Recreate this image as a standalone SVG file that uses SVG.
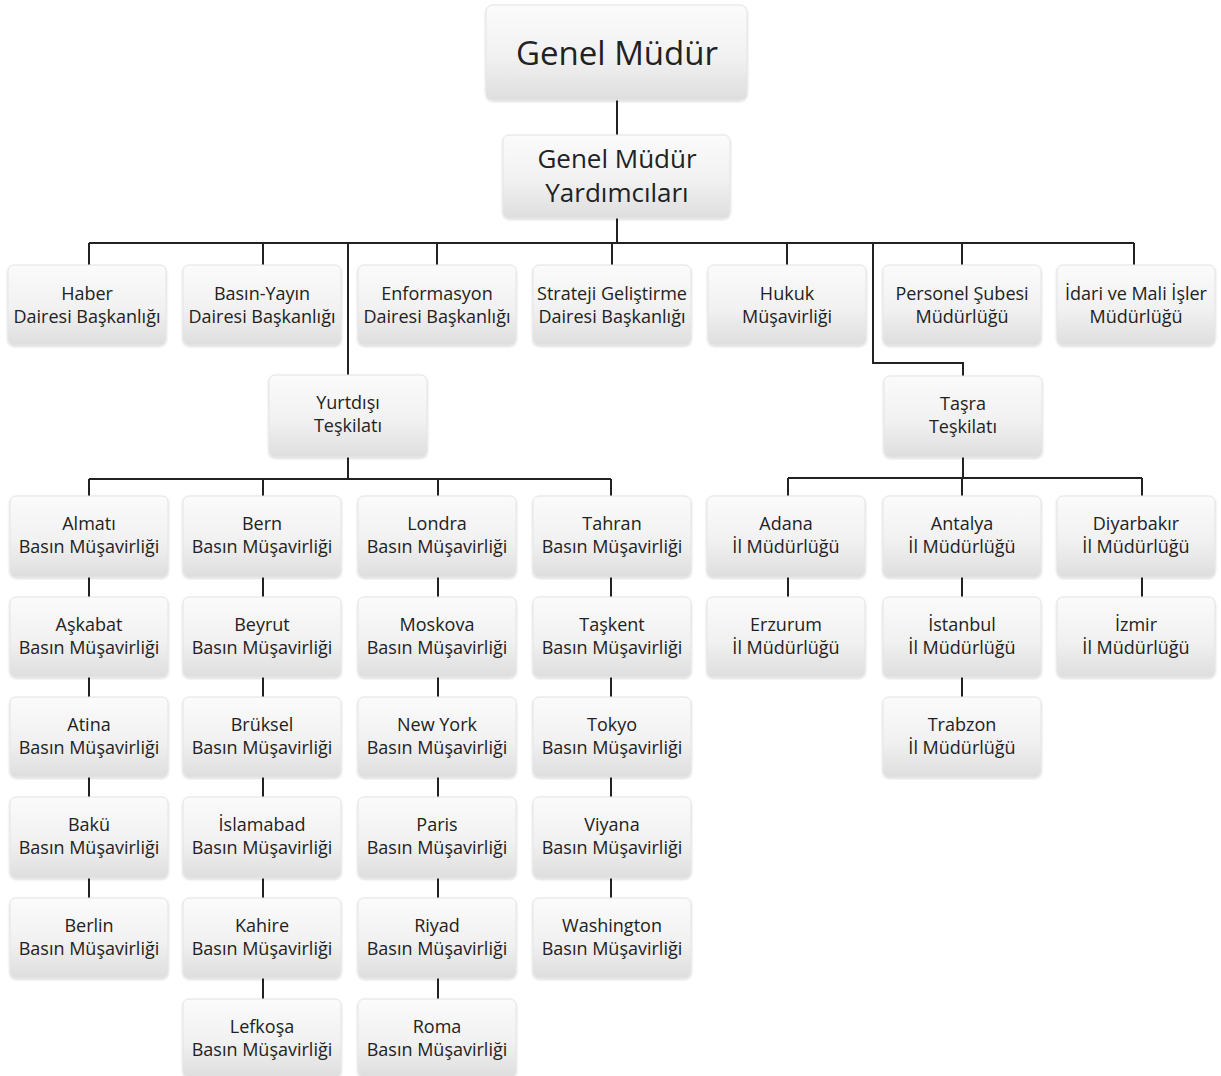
<svg xmlns="http://www.w3.org/2000/svg" width="1221" height="1076" viewBox="0 0 1221 1076">
<defs>
<linearGradient id="g" x1="0" y1="0" x2="0" y2="1">
<stop offset="0" stop-color="#fbfbfb"/>
<stop offset="0.55" stop-color="#f1f1f1"/>
<stop offset="1" stop-color="#dedede"/>
</linearGradient>
<filter id="sh" x="-10%" y="-10%" width="120%" height="130%">
<feDropShadow dx="0" dy="1" stdDeviation="1.2" flood-color="#000" flood-opacity="0.18"/>
</filter>
</defs>
<style>
.b{fill:url(#g);stroke:#e4e4e4;stroke-width:1;filter:url(#sh)}
.t{font-family:"Open Sans",Lato,"Liberation Sans",sans-serif;font-size:18px;fill:#222;text-anchor:middle}
.m{font-size:26px}
.l{font-size:33px}
.c{fill:none;stroke:#222;stroke-width:2}
</style>
<rect width="1221" height="1076" fill="#fff"/>
<g id="connectors">
<path class="c" d="M617 100V135M617 218V243M89 243H1134M89 243V265M263 243V265M437 243V265M612 243V265M787 243V265M962 243V265M1134 243V265"/>
<path class="c" d="M348 243V375M873 243V363H963V376"/>
<path class="c" d="M348 457V479M89 479H611M89 479V496M263 479V496M438 479V496M611 479V496"/>
<path class="c" d="M89 577V597M89 677V697M89 777V797M89 878V898"/>
<path class="c" d="M263 577V597M263 677V697M263 777V797M263 878V898M263 978V999"/>
<path class="c" d="M438 577V597M438 677V697M438 777V797M438 878V898M438 978V999"/>
<path class="c" d="M611 577V597M611 677V697M611 777V797M611 878V898"/>
<path class="c" d="M963 457V478M788 478H1142M788 478V496M962 478V496M1142 478V496"/>
<path class="c" d="M788 577V597M962 577V597M962 677V697M1142 577V597"/>
</g>
<g id="genel-mudur"><rect class="b" x="486" y="5" width="261" height="95" rx="7"/><text class="t l" x="617" y="65">Genel Müdür</text></g>
<g id="gmy"><rect class="b" x="503" y="135" width="227" height="83" rx="6"/><text class="t m" x="617" y="168">Genel Müdür</text><text class="t m" x="617" y="202">Yardımcıları</text></g>
<g id="haber"><rect class="b" x="8" y="265" width="158" height="80" rx="6"/><text class="t" x="87" y="300">Haber</text><text class="t" x="87" y="323">Dairesi Başkanlığı</text></g>
<g id="basin-yayin"><rect class="b" x="183" y="265" width="158" height="80" rx="6"/><text class="t" x="262" y="300">Basın-Yayın</text><text class="t" x="262" y="323">Dairesi Başkanlığı</text></g>
<g id="enformasyon"><rect class="b" x="358" y="265" width="158" height="80" rx="6"/><text class="t" x="437" y="300">Enformasyon</text><text class="t" x="437" y="323">Dairesi Başkanlığı</text></g>
<g id="strateji"><rect class="b" x="533" y="265" width="158" height="80" rx="6"/><text class="t" x="612" y="300">Strateji Geliştirme</text><text class="t" x="612" y="323">Dairesi Başkanlığı</text></g>
<g id="hukuk"><rect class="b" x="708" y="265" width="158" height="80" rx="6"/><text class="t" x="787" y="300">Hukuk</text><text class="t" x="787" y="323">Müşavirliği</text></g>
<g id="personel"><rect class="b" x="883" y="265" width="158" height="80" rx="6"/><text class="t" x="962" y="300">Personel Şubesi</text><text class="t" x="962" y="323">Müdürlüğü</text></g>
<g id="idari"><rect class="b" x="1057" y="265" width="158" height="80" rx="6"/><text class="t" x="1136" y="300">İdari ve Mali İşler</text><text class="t" x="1136" y="323">Müdürlüğü</text></g>
<g id="yurtdisi"><rect class="b" x="269" y="375" width="158" height="82" rx="6"/><text class="t" x="348" y="409">Yurtdışı</text><text class="t" x="348" y="432">Teşkilatı</text></g>
<g id="tasra"><rect class="b" x="884" y="376" width="158" height="81" rx="6"/><text class="t" x="963" y="410">Taşra</text><text class="t" x="963" y="433">Teşkilatı</text></g>
<g id="almati"><rect class="b" x="10" y="496" width="158" height="81" rx="6"/><text class="t" x="89" y="530">Almatı</text><text class="t" x="89" y="553">Basın Müşavirliği</text></g>
<g id="askabat"><rect class="b" x="10" y="597" width="158" height="80" rx="6"/><text class="t" x="89" y="631">Aşkabat</text><text class="t" x="89" y="654">Basın Müşavirliği</text></g>
<g id="atina"><rect class="b" x="10" y="697" width="158" height="80" rx="6"/><text class="t" x="89" y="731">Atina</text><text class="t" x="89" y="754">Basın Müşavirliği</text></g>
<g id="baku"><rect class="b" x="10" y="797" width="158" height="81" rx="6"/><text class="t" x="89" y="831">Bakü</text><text class="t" x="89" y="854">Basın Müşavirliği</text></g>
<g id="berlin"><rect class="b" x="10" y="898" width="158" height="80" rx="6"/><text class="t" x="89" y="932">Berlin</text><text class="t" x="89" y="955">Basın Müşavirliği</text></g>
<g id="bern"><rect class="b" x="183" y="496" width="158" height="81" rx="6"/><text class="t" x="262" y="530">Bern</text><text class="t" x="262" y="553">Basın Müşavirliği</text></g>
<g id="beyrut"><rect class="b" x="183" y="597" width="158" height="80" rx="6"/><text class="t" x="262" y="631">Beyrut</text><text class="t" x="262" y="654">Basın Müşavirliği</text></g>
<g id="bruksel"><rect class="b" x="183" y="697" width="158" height="80" rx="6"/><text class="t" x="262" y="731">Brüksel</text><text class="t" x="262" y="754">Basın Müşavirliği</text></g>
<g id="islamabad"><rect class="b" x="183" y="797" width="158" height="81" rx="6"/><text class="t" x="262" y="831">İslamabad</text><text class="t" x="262" y="854">Basın Müşavirliği</text></g>
<g id="kahire"><rect class="b" x="183" y="898" width="158" height="80" rx="6"/><text class="t" x="262" y="932">Kahire</text><text class="t" x="262" y="955">Basın Müşavirliği</text></g>
<g id="lefkosa"><rect class="b" x="183" y="999" width="158" height="78" rx="6"/><text class="t" x="262" y="1033">Lefkoşa</text><text class="t" x="262" y="1056">Basın Müşavirliği</text></g>
<g id="londra"><rect class="b" x="358" y="496" width="158" height="81" rx="6"/><text class="t" x="437" y="530">Londra</text><text class="t" x="437" y="553">Basın Müşavirliği</text></g>
<g id="moskova"><rect class="b" x="358" y="597" width="158" height="80" rx="6"/><text class="t" x="437" y="631">Moskova</text><text class="t" x="437" y="654">Basın Müşavirliği</text></g>
<g id="newyork"><rect class="b" x="358" y="697" width="158" height="80" rx="6"/><text class="t" x="437" y="731">New York</text><text class="t" x="437" y="754">Basın Müşavirliği</text></g>
<g id="paris"><rect class="b" x="358" y="797" width="158" height="81" rx="6"/><text class="t" x="437" y="831">Paris</text><text class="t" x="437" y="854">Basın Müşavirliği</text></g>
<g id="riyad"><rect class="b" x="358" y="898" width="158" height="80" rx="6"/><text class="t" x="437" y="932">Riyad</text><text class="t" x="437" y="955">Basın Müşavirliği</text></g>
<g id="roma"><rect class="b" x="358" y="999" width="158" height="78" rx="6"/><text class="t" x="437" y="1033">Roma</text><text class="t" x="437" y="1056">Basın Müşavirliği</text></g>
<g id="tahran"><rect class="b" x="533" y="496" width="158" height="81" rx="6"/><text class="t" x="612" y="530">Tahran</text><text class="t" x="612" y="553">Basın Müşavirliği</text></g>
<g id="taskent"><rect class="b" x="533" y="597" width="158" height="80" rx="6"/><text class="t" x="612" y="631">Taşkent</text><text class="t" x="612" y="654">Basın Müşavirliği</text></g>
<g id="tokyo"><rect class="b" x="533" y="697" width="158" height="80" rx="6"/><text class="t" x="612" y="731">Tokyo</text><text class="t" x="612" y="754">Basın Müşavirliği</text></g>
<g id="viyana"><rect class="b" x="533" y="797" width="158" height="81" rx="6"/><text class="t" x="612" y="831">Viyana</text><text class="t" x="612" y="854">Basın Müşavirliği</text></g>
<g id="washington"><rect class="b" x="533" y="898" width="158" height="80" rx="6"/><text class="t" x="612" y="932">Washington</text><text class="t" x="612" y="955">Basın Müşavirliği</text></g>
<g id="adana"><rect class="b" x="707" y="496" width="158" height="81" rx="6"/><text class="t" x="786" y="530">Adana</text><text class="t" x="786" y="553">İl Müdürlüğü</text></g>
<g id="erzurum"><rect class="b" x="707" y="597" width="158" height="80" rx="6"/><text class="t" x="786" y="631">Erzurum</text><text class="t" x="786" y="654">İl Müdürlüğü</text></g>
<g id="antalya"><rect class="b" x="883" y="496" width="158" height="81" rx="6"/><text class="t" x="962" y="530">Antalya</text><text class="t" x="962" y="553">İl Müdürlüğü</text></g>
<g id="istanbul"><rect class="b" x="883" y="597" width="158" height="80" rx="6"/><text class="t" x="962" y="631">İstanbul</text><text class="t" x="962" y="654">İl Müdürlüğü</text></g>
<g id="trabzon"><rect class="b" x="883" y="697" width="158" height="80" rx="6"/><text class="t" x="962" y="731">Trabzon</text><text class="t" x="962" y="754">İl Müdürlüğü</text></g>
<g id="diyarbakir"><rect class="b" x="1057" y="496" width="158" height="81" rx="6"/><text class="t" x="1136" y="530">Diyarbakır</text><text class="t" x="1136" y="553">İl Müdürlüğü</text></g>
<g id="izmir"><rect class="b" x="1057" y="597" width="158" height="80" rx="6"/><text class="t" x="1136" y="631">İzmir</text><text class="t" x="1136" y="654">İl Müdürlüğü</text></g>
</svg>
